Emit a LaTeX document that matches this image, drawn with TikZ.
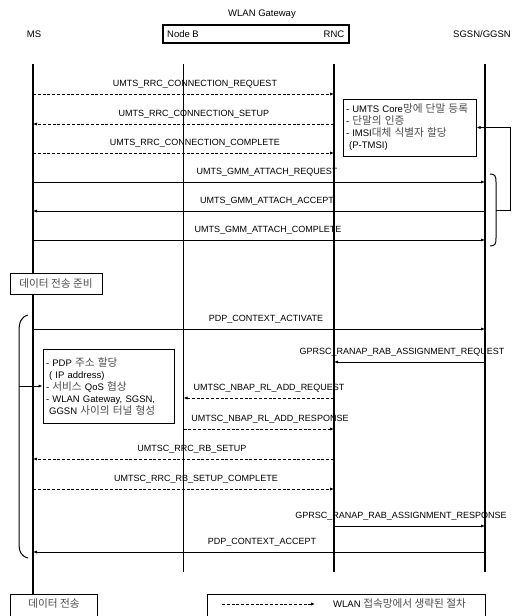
\documentclass[tikz,border=0pt]{standalone}
\usepackage{fontspec}
\setmainfont{Liberation Sans}
\newfontfamily\kr[Scale=1.12]{Noto Sans CJK KR}
\usetikzlibrary{arrows.meta}
\newcommand{\K}[1]{{\kr\color{black!70}#1}}
\newcommand{\Msg}[7]{%
  \coordinate (#1a) at (#3,#2);
  \coordinate (#1b) at (#4,#2);
  \draw[#5] (#1a) -- (#1b);
  \node[lbl] (#1l) at (#7,#2-10) {#6};}
\begin{document}
\begin{tikzpicture}[x=1pt,y=-1pt,
  life/.style={line width=1.1pt},
  sig/.style={line width=1pt,-{Latex[length=4pt,width=3.2pt]}},
  omit/.style={sig,dash pattern=on 3pt off 1.8pt},
  lbl/.style={font=\fontsize{9}{10}\selectfont,inner sep=0pt},
  hdr/.style={font=\fontsize{9.5}{11}\selectfont,inner sep=0pt},
  note/.style={draw,line width=1pt,fill=white,align=left,inner xsep=3pt,inner ysep=2pt,
    font=\fontsize{9.5}{12}\selectfont},
  tag/.style={draw,line width=1pt,fill=white,inner sep=0pt,
    font=\fontsize{9.5}{11}\selectfont}]
\useasboundingbox (0,0) rectangle (521,616);
% header
\node[hdr] (wg) at (262,14) {WLAN Gateway};
\draw[line width=1.8pt] (163,25) rectangle (349,43);
\node[hdr] (ms) at (34,34) {MS};
\node[hdr] (nb) at (183,34) {Node B};
\node[hdr] (rnc) at (334,34) {RNC};
\node[hdr] (sg) at (482,34) {SGSN/GGSN};
% lifelines
\coordinate (msT) at (33,64);   \coordinate (msB) at (33,596);
\coordinate (nbT) at (183.5,64); \coordinate (nbB) at (183.5,572);
\coordinate (rnT) at (334,64);  \coordinate (rnB) at (334,572);
\coordinate (sgT) at (485,64);  \coordinate (sgB) at (485,572);
\draw[life] (msT) -- (msB);
\draw[life,line width=1.4pt] (nbT) -- (nbB);
\draw[life] (rnT) -- (rnB);
\draw[life] (sgT) -- (sgB);
% messages
\Msg{m1}{94}{33}{334}{omit}{UMTS\_RRC\_CONNECTION\_REQUEST}{195}
\Msg{m2}{124}{334}{33}{omit}{UMTS\_RRC\_CONNECTION\_SETUP}{194}
\Msg{m3}{153}{33}{334}{omit}{UMTS\_RRC\_CONNECTION\_COMPLETE}{195}
\Msg{m4}{182}{33}{485}{sig}{UMTS\_GMM\_ATTACH\_REQUEST}{267}
\Msg{m5}{211}{485}{33}{sig}{UMTS\_GMM\_ATTACH\_ACCEPT}{267}
\Msg{m6}{240}{33}{485}{sig}{UMTS\_GMM\_ATTACH\_COMPLETE}{268}
\Msg{m7}{329}{33}{485}{sig}{PDP\_CONTEXT\_ACTIVATE}{266}
\Msg{m8}{362}{485}{334}{sig}{GPRSC\_RANAP\_RAB\_ASSIGNMENT\_REQUEST}{402}
\Msg{m9}{398}{334}{183.5}{omit}{UMTSC\_NBAP\_RL\_ADD\_REQUEST}{269}
\Msg{m10}{429}{183.5}{334}{omit}{UMTSC\_NBAP\_RL\_ADD\_RESPONSE}{270}
\Msg{m11}{459}{334}{33}{omit}{UMTSC\_RRC\_RB\_SETUP}{192}
\Msg{m12}{489}{33}{334}{omit}{UMTSC\_RRC\_RB\_SETUP\_COMPLETE}{196}
\Msg{m13}{526}{334}{485}{sig}{GPRSC\_RANAP\_RAB\_ASSIGNMENT\_RESPONSE}{401}
\Msg{m14}{552}{485}{33}{sig}{PDP\_CONTEXT\_ACCEPT}{262}
% note boxes
\node[note,text width=127pt,minimum height=57pt] (n1) at (409.5,127.5)
  {- UMTS Core\K{망에 단말 등록}\\- \K{단말의 인증}\\- IMSI\K{대체 식별자 할당}\\\ (P-TMSI)};
\node[note,text width=125pt,minimum height=74pt] (n2) at (108.5,386)
  {- PDP \K{주소 할당}\\\ ( IP address)\\- \K{서비스} QoS \K{협상}\\- WLAN Gateway, SGSN,\\\ GGSN \K{사이의 터널 형성}};
% right brace and link
\coordinate (rb1) at (490,174); \coordinate (rb2) at (490,246);
\coordinate (rbm) at (496,210); \coordinate (rbc) at (510,210);
\coordinate (rbu) at (510,127.5);
\draw[line width=1pt] (rb1) .. controls (495,174) and (496,176) .. (496,182)
  -- (496,238) .. controls (496,244) and (495,246) .. (rb2);
\draw[sig] (rbm) -- (rbc) -- (rbu) -- (n1.east);
% left brace and link
\coordinate (lb1) at (28,315); \coordinate (lb2) at (28,558);
\coordinate (lbm) at (19,386);
\draw[line width=1pt] (lb1) .. controls (21,317) and (19,322) .. (19,332)
  -- (19,542) .. controls (19,552) and (21,556) .. (lb2);
\draw[sig] (lbm) -- (n2.west);
% phase tags
\node[tag,minimum width=92pt,minimum height=21pt] (p1) at (56,283.5) {\K{데이터 전송 준비}};
\draw[line width=1pt,fill=white] (10,594) rectangle (97,620);
\node[inner sep=0pt,font=\fontsize{9.5}{11}\selectfont] (p2) at (54,604) {\K{데이터 전송}};
% legend
\draw[line width=1pt,fill=white] (207,594) rectangle (485,620);
\coordinate (lg1) at (222,604); \coordinate (lg2) at (315,604);
\draw[omit] (lg1) -- (lg2);
\node[anchor=west,inner sep=0pt,font=\fontsize{9.5}{11}\selectfont] (lgt) at (333,604)
  {WLAN \K{접속망에서 생략된 절차}};
\end{tikzpicture}
\end{document}
